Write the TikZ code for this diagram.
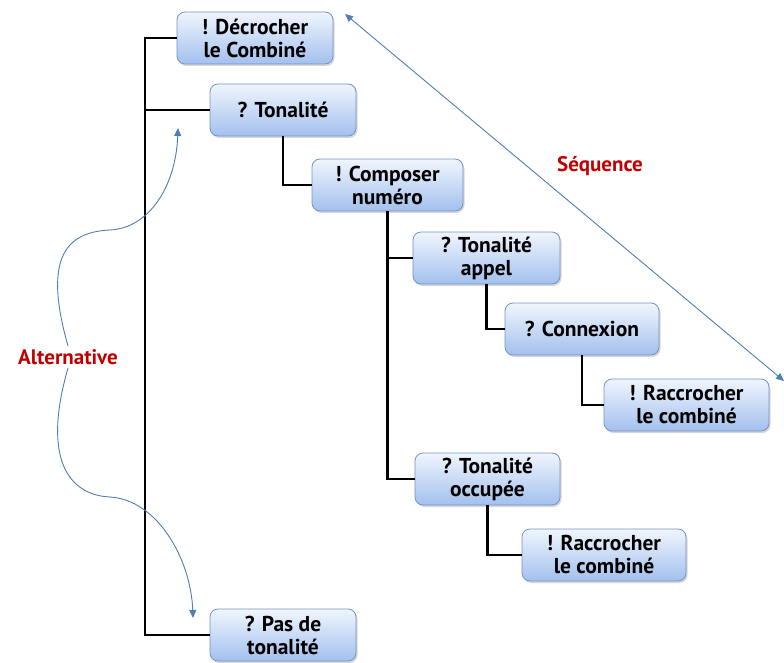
\documentclass[tikz,border=0pt]{standalone}
\usepackage{fontspec}
\setmainfont{PT Sans}
\usepackage{tikz}
\usetikzlibrary{arrows.meta,shadows}

\definecolor{boxline}{HTML}{7393C6}
\definecolor{boxtop}{HTML}{F0F5FD}
\definecolor{boxbot}{HTML}{A3C0EE}
\definecolor{altblue}{HTML}{4F7DB5}
\definecolor{lblred}{HTML}{C00000}

\begin{document}
\begin{tikzpicture}[
    x=1pt, y=-1pt,
    box/.style={draw=boxline, line width=0.8pt, rounded corners=8pt, top color=boxtop, bottom color=boxbot,
        minimum height=52pt, align=center, inner sep=1pt,
        font=\fontsize{21.5}{23}\selectfont\bfseries,
        drop shadow={shadow xshift=1.5pt, shadow yshift=-2pt, fill=black!35, opacity=0.45}},
    conn/.style={line width=2.2pt, black},
    blue arrow/.style={-{Triangle[length=8pt,width=7pt]}, altblue, line width=0.9pt},
    label/.style={font=\fontsize{21}{23}\selectfont\bfseries, text=lblred}
]
\useasboundingbox (0,0) rectangle (784,663);

% Boxes
\node[box, minimum width=156pt] (dec) at (255,38) {! Décrocher\\le Combiné};
\node[box, minimum width=146pt] (ton) at (283,110) {? Tonalité};
\node[box, minimum width=151pt] (comp) at (387.5,185) {! Composer\\numéro};
\node[box, minimum width=147pt] (app) at (486.5,258) {? Tonalité\\appel};
\node[box, minimum width=154pt] (cnx) at (582,329) {? Connexion};
\node[box, minimum width=165pt] (racc1) at (686.5,405) {! Raccrocher\\le combiné};
\node[box, minimum width=145pt] (occ) at (487.5,479) {? Tonalité\\occupée};
\node[box, minimum width=164pt] (racc2) at (604,555) {! Raccrocher\\le combiné};
\node[box, minimum width=146pt] (pas) at (283,635) {? Pas de\\tonalité};

% Tree lines
\coordinate (trunk) at (145,38);
\draw[conn] (dec.west) -- (trunk) |- (pas.west);
\draw[conn] (trunk |- ton.west) -- (ton.west);
\draw[conn] (ton.south) |- (comp.west);
\draw[conn] (comp.south) |- (occ.west);
\draw[conn] (comp.south |- app.west) -- (app.west);
\draw[conn] (app.south) |- (cnx.west);
\draw[conn] (cnx.south) |- (racc1.west);
\draw[conn] (occ.south) |- (racc2.west);

% Alternative
\node[label] (alt) at (68,357) {Alternative};
\coordinate (altup) at (178,128);
\coordinate (altdown) at (193,618);
\draw[blue arrow] (alt.north) .. controls (42,255) and (68,232) .. (110,230)
    .. controls (150,228) and (176,185) .. (altup);
\draw[blue arrow] (alt.south) .. controls (42,458) and (68,495) .. (110,497)
    .. controls (158,500) and (191,560) .. (altdown);

% Sequence
\node[label] (seq) at (600,166) {Séquence};
\coordinate (seqtop) at (345,14);
\coordinate (seqend) at (784,381);
\draw[blue arrow, {Triangle[length=8pt,width=7pt]}-{Triangle[length=8pt,width=7pt]}] (seqend) -- (seqtop);
\end{tikzpicture}
\end{document}
